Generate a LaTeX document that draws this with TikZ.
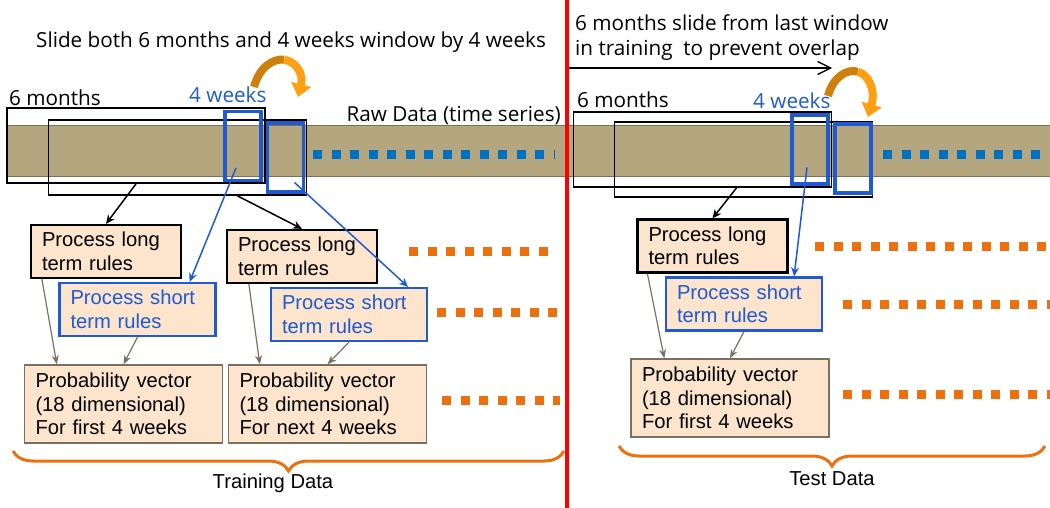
\documentclass[tikz,border=0pt]{standalone}
\usepackage{fontspec}
\setmainfont{Open Sans}
\newfontfamily\boxfont{Liberation Sans}
\usetikzlibrary{arrows.meta,decorations.pathreplacing}
\definecolor{bandfill}{RGB}{180,166,126}
\definecolor{bandline}{RGB}{125,112,85}
\definecolor{peach}{RGB}{252,228,205}
\definecolor{ruleblue}{RGB}{31,90,206}
\definecolor{dotblue}{RGB}{0,112,192}
\definecolor{dotorange}{RGB}{237,112,15}
\definecolor{arrowgray}{RGB}{122,112,96}
\definecolor{slidedark}{RGB}{205,128,12}
\definecolor{slidelight}{RGB}{255,160,20}

\begin{document}
\begin{tikzpicture}[x=1pt, y=-1pt,
  longbox/.style={draw=black, line width=2.2pt, fill=peach, text width=128pt,
    inner xsep=11pt, minimum height=53pt, align=left,
    font=\boxfont\fontsize{20.2}{23.5}\selectfont},
  shortbox/.style={longbox, draw=ruleblue, text=ruleblue, text width=134pt},
  probbox/.style={longbox, draw=arrowgray, line width=1.4pt, text width=176pt, minimum height=78pt},
  win/.style={draw=black, line width=1.8pt, inner sep=0pt, minimum width=258pt, minimum height=75pt},
  weekwin/.style={draw=ruleblue, line width=3.2pt, inner sep=0pt, minimum width=36pt, minimum height=69pt},
  longarrow/.style={-{Stealth[length=9pt,width=8pt]}, line width=1.5pt},
  shortarrow/.style={longarrow, ruleblue},
  probarrow/.style={-{Stealth[length=9pt,width=7pt]}, arrowgray, line width=1.2pt},
  dots/.style={line width=9pt, dash pattern=on 9pt off 9.5pt},
  brace/.style={decorate, decoration={brace,mirror,amplitude=20pt}, dotorange, line width=3pt},
  label/.style={inner sep=0pt, font=\fontsize{20.7}{25}\selectfont},
  slide/.style={line width=8pt},
  slidehead/.style={slide, -{Triangle[length=13pt,width=20pt]}}]
  \useasboundingbox (0,0) rectangle (1050,508);
  % raw data band
  \fill [bandfill] (7,126) rectangle (1050,177);
  \draw [bandline, line width=1pt] (7,126) -- (1050,126) (7,177) -- (1050,177);
  \draw [dots, dotblue] (313,155) -- (555,155);
  \draw [dots, dotblue] (883,155) -- (1050,155);
  % texts
  \node [label, anchor=west] (title) at (36,42) {Slide both 6 months and 4 weeks window by 4 weeks};
  \node [label, anchor=west, align=left] (note) at (575,38) {6 months slide from last window\\in training\ \ to prevent overlap};
  \node [label, anchor=west] (lmonths) at (9,98) {6 months};
  \node [label, anchor=west, ruleblue] (lweeks) at (189,95) {4 weeks};
  \node [label, anchor=east] (raw) at (561,116) {Raw Data (time series)};
  \node [label, anchor=west] (rmonths) at (577,100) {6 months};
  \node [label, anchor=west, ruleblue] (rweeks) at (753,101) {4 weeks};
  %% training windows
  \node [win] (lw1) at (136,145.5) {};
  \node [win] (lw2) at (177.5,157.5) {};
  \node [weekwin] (lk1) at (243,146) {};
  \node [weekwin] (lk2) at (285.5,157.5) {};
  %% test windows
  \node [win] (rw1) at (702.5,149.5) {};
  \node [win] (rw2) at (743.5,159.5) {};
  \node [weekwin] (rk1) at (810,149.5) {};
  \node [weekwin] (rk2) at (853,158.5) {};
  %% boxes
  \node [longbox] (long1) at (106,251.5) {Process long\\term rules};
  \node [shortbox] (short1) at (137.5,309.5) {Process short\\term rules};
  \node [longbox] (long2) at (302,256.5) {Process long\\term rules};
  \node [shortbox] (short2) at (349,314.5) {Process short\\term rules};
  \node [probbox] (prob1) at (123.5,404) {Probability vector\\(18 dimensional)\\For first 4 weeks};
  \node [probbox] (prob2) at (327.5,404) {Probability vector\\(18 dimensional)\\For next 4 weeks};
  \node [longbox] (rlong) at (712.5,246) {Process long\\term rules};
  \node [shortbox] (rshort) at (744,304) {Process short\\term rules};
  \node [probbox] (rprob) at (730,398) {Probability vector\\(18 dimensional)\\For first 4 weeks};
  % dots
  \draw [dots, dotorange] (409,251) -- (555,251);
  \draw [dots, dotorange] (437,312) -- (560,312);
  \draw [dots, dotorange] (442,400) -- (560,400);
  \draw [dots, dotorange] (815,246) -- (1050,246);
  \draw [dots, dotorange] (843,304) -- (1050,304);
  \draw [dots, dotorange] (843,394) -- (1050,394);
  % edges
  \draw [longarrow] (lw1.south) to (long1.north);
  \draw [longarrow] ([xshift=60pt]lw2.south) to (long2.north);
  \draw [shortarrow] ([shift={(-7,22)}]lk1.center) to ([xshift=-27pt]short1.north east);
  \draw [shortarrow] ([shift={(9,25)}]lk2.center) to ([xshift=-20pt]short2.north east);
  \draw [probarrow] ([xshift=12pt]long1.south west) to ([xshift=33pt]prob1.north west);
  \draw [probarrow] (short1.south) to (prob1.north);
  \draw [probarrow] ([xshift=23pt]long2.south west) to ([xshift=32pt]prob2.north west);
  \draw [probarrow] (short2.south) to (prob2.north);
  \draw [longarrow] ([xshift=34pt]rw1.south) to (rlong.north);
  \draw [shortarrow] ([shift={(-3,18)}]rk1.center) to ([xshift=-29pt]rshort.north east);
  \draw [probarrow] ([xshift=11pt]rlong.south west) to ([xshift=34pt]rprob.north west);
  \draw [probarrow] (rshort.south) to (rprob.north);
  % slide arrows
  \draw [slide, slidedark] (254,87) .. controls (259,67.5) and (273,58.25) .. (284.25,59.75);
  \draw [slidehead, slidelight] (284.25,59.75) .. controls (295.5,61.25) and (304,73.5) .. (298,97);
  \draw [slide, slidedark] (828,96) .. controls (833,77) and (847,68.5) .. (857.75,71.625);
  \draw [slidehead, slidelight] (857.75,71.625) .. controls (868.5,74.75) and (876,89.5) .. (868,117);
  \coordinate (slidefrom) at (567,68);
  \coordinate (slideto) at (832,68);
  \draw [-{Straight Barb[length=13pt,width=13pt]}, line width=1.3pt] (slidefrom) -- (slideto);
  % split
  \draw [red, line width=4pt] (567,0) -- (567,508);
  % braces
  \draw [brace] (13,451) -- (564,451);
  \draw [brace] (619,446) -- (1045,446);
  \node [label, font=\boxfont\fontsize{20.2}{23}\selectfont] (train) at (273,483) {Training Data};
  \node [label, font=\boxfont\fontsize{20.2}{23}\selectfont] (test) at (832,479) {Test Data};
\end{tikzpicture}
\end{document}
